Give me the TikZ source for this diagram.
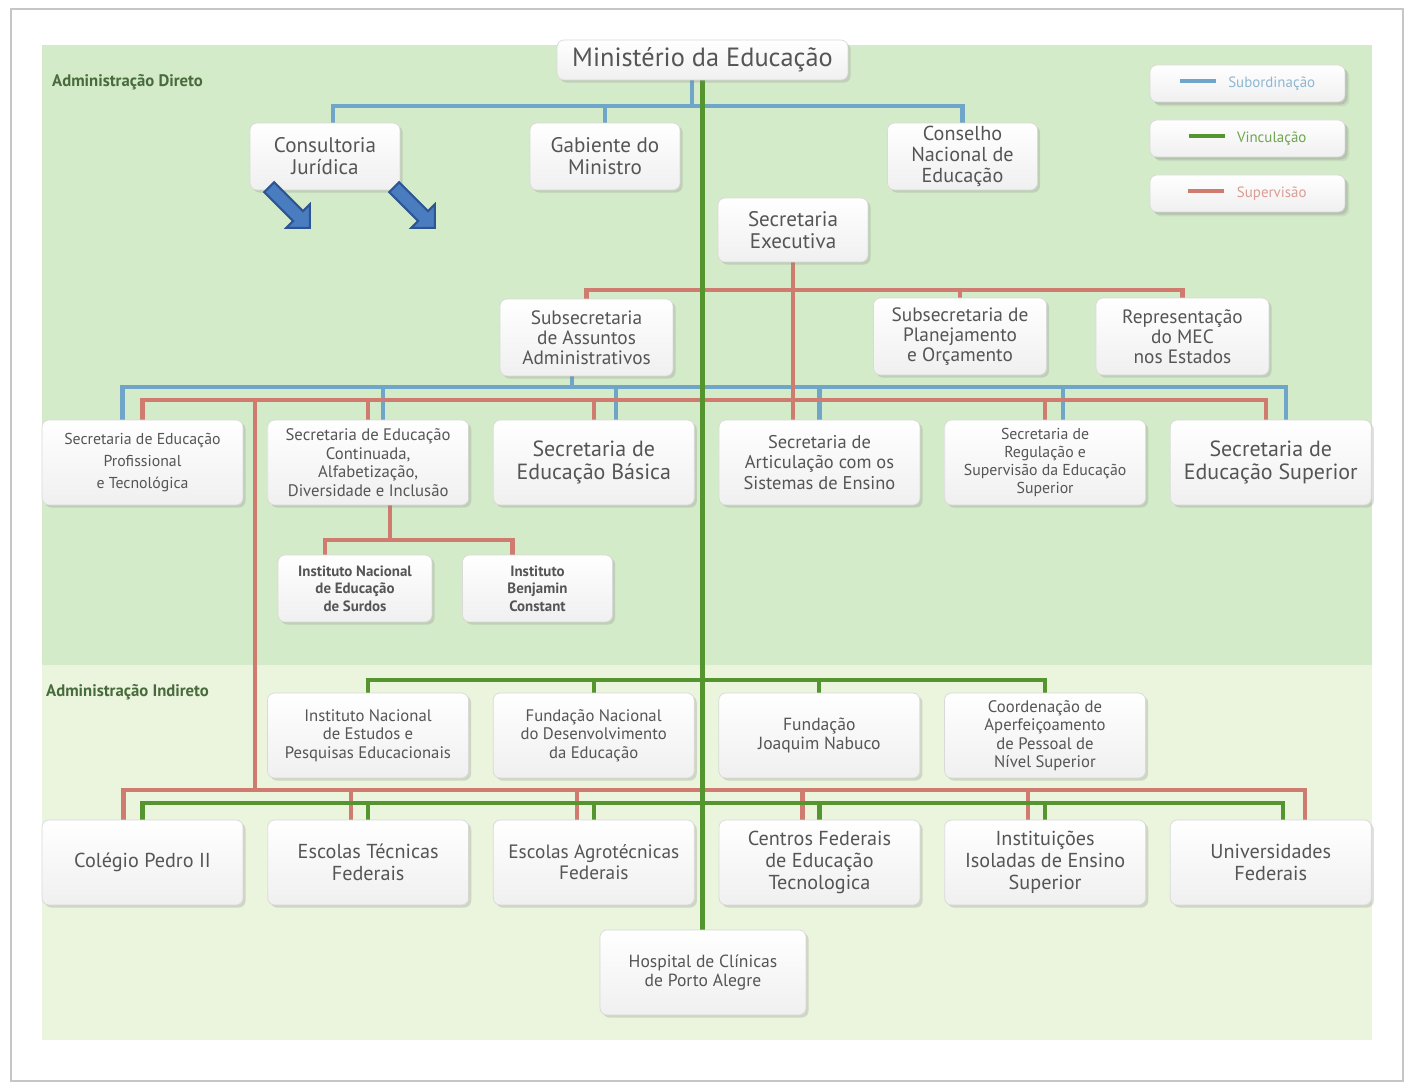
\documentclass[tikz,border=0pt]{standalone}
\usepackage{fontspec}
\setmainfont{PT Sans}
\usetikzlibrary{positioning,shadows,shapes.arrows,backgrounds}
\definecolor{mecblue}{HTML}{6FA5C8}
\definecolor{mecgreen}{HTML}{55952F}
\definecolor{mecred}{HTML}{CF7B70}
\definecolor{areatop}{HTML}{D4EBC9}
\definecolor{areabottom}{HTML}{EBF4DC}
\definecolor{boxtext}{HTML}{555555}
\definecolor{labelgreen}{HTML}{476B3C}
\definecolor{arrowfill}{HTML}{4A7CC0}
\definecolor{arrowline}{HTML}{2E5593}

\begin{document}
\begin{tikzpicture}[
    x=0.02cm, y=-0.02cm,
    node distance=0.48cm,
    box/.style={draw=gray!30, rounded corners=4pt, top color=white, bottom color=gray!12,
                drop shadow={shadow xshift=1.5pt, shadow yshift=-1.5pt, opacity=0.25},
                text=boxtext, align=center, inner sep=1pt},
    secbox/.style={box, minimum width=4.02cm, minimum height=1.7cm},
    smallbox/.style={box, minimum width=3cm, minimum height=1.34cm},
    midbox/.style={box, minimum width=3.46cm, minimum height=1.54cm},
    keybox/.style={box, minimum width=3.9cm, minimum height=0.74cm,
                   font=\fontsize{8.5}{9}\selectfont, drop shadow={opacity=0.15}},
    area/.style={font=\fontsize{9.5}{11}\selectfont\bfseries, text=labelgreen, anchor=west},
    sub/.style={draw=mecblue, line width=2.3pt},
    vinc/.style={draw=mecgreen, line width=2.3pt},
    sup/.style={draw=mecred, line width=2.6pt},
    blockarrow/.style={single arrow, draw=arrowline, fill=arrowfill, line width=1.2pt,
                       minimum height=1.15cm, single arrow head extend=0.19cm,
                       inner sep=0.12cm, rotate=-45},
]
\useasboundingbox (0,0) rectangle (1411,1084);

% Administração Direta
\node[box, minimum width=5.82cm, minimum height=0.8cm, font=\fontsize{15}{17}\selectfont]
    (min) at (702.5,60) {Ministério da Educação};
\node[area] (dir) at (46,82) {Administração Direto};

\node[smallbox, font=\fontsize{12}{12.5}\selectfont] (cj) at (325,156.5) {Consultoria\\Jurídica};
\node[smallbox, font=\fontsize{12}{12.5}\selectfont] (gm) at (605,156.5) {Gabiente do\\Ministro};
\node[smallbox, font=\fontsize{11.5}{12}\selectfont] (cne) at (962.5,156.5) {Conselho\\Nacional de\\Educação};
\node[smallbox, minimum height=1.28cm, font=\fontsize{12}{12.5}\selectfont] (se) at (793,230) {Secretaria\\Executiva};

\node[blockarrow] (arrowA) at (287,205) {};
\node[blockarrow] (arrowB) at (412,205) {};

\node[midbox, font=\fontsize{11}{11.5}\selectfont] (saa) at (586.5,337.5) {Subsecretaria\\de Assuntos\\Administrativos};
\node[midbox, font=\fontsize{11}{11.5}\selectfont] (spo) at (960,336.5) {Subsecretaria de\\Planejamento\\e Orçamento};
\node[midbox, font=\fontsize{11}{11.5}\selectfont] (rep) at (1182.5,336.5) {Representação\\do MEC\\nos Estados};

\node[secbox, font=\fontsize{9}{12.5}\selectfont] (sept) at (142.5,462.5)
    {Secretaria de Educação\\Profissional\\e Tecnológica};
\node[secbox, font=\fontsize{9.5}{10.5}\selectfont, right=of sept] (secadi)
    {Secretaria de Educação\\Continuada,\\Alfabetização,\\Diversidade e Inclusão};
\node[secbox, font=\fontsize{12.5}{13.5}\selectfont, right=of secadi] (seb)
    {Secretaria de\\Educação Básica};
\node[secbox, font=\fontsize{10.5}{11.5}\selectfont, right=of seb] (sase)
    {Secretaria de\\Articulação com os\\Sistemas de Ensino};
\node[secbox, font=\fontsize{9}{10.2}\selectfont, right=of sase] (seres)
    {Secretaria de\\Regulação e\\Supervisão da Educação\\Superior};
\node[secbox, font=\fontsize{12.5}{13}\selectfont, right=of seres] (sesu)
    {Secretaria de\\Educação Superior};

\node[smallbox, minimum width=3.08cm, font=\fontsize{8.5}{10}\selectfont\bfseries]
    (ines) at (355,588.5) {Instituto Nacional\\de Educação\\de Surdos};
\node[smallbox, font=\fontsize{8.5}{10}\selectfont\bfseries]
    (ibc) at (537.5,588.5) {Instituto\\Benjamin\\Constant};

% Administração Indireta
\node[area] (ind) at (40,692) {Administração Indireto};
\node[secbox, font=\fontsize{9.5}{10.5}\selectfont] (inep) at (368,735.5)
    {Instituto Nacional\\de Estudos e\\Pesquisas Educacionais};
\node[secbox, font=\fontsize{9.5}{10.5}\selectfont, right=of inep] (fnde)
    {Fundação Nacional\\do Desenvolvimento\\da Educação};
\node[secbox, font=\fontsize{10}{11}\selectfont, right=of fnde] (fjn)
    {Fundação\\Joaquim Nabuco};
\node[secbox, font=\fontsize{9.5}{10.5}\selectfont, right=of fjn] (capes)
    {Coordenação de\\Aperfeiçoamento\\de Pessoal de\\Nível Superior};

\node[secbox, font=\fontsize{11.5}{12.5}\selectfont] (cp2) at (142.5,862.5) {Colégio Pedro II};
\node[secbox, font=\fontsize{11.5}{12.5}\selectfont, right=of cp2] (etf) {Escolas Técnicas\\Federais};
\node[secbox, font=\fontsize{11}{12}\selectfont, right=of etf] (eaf) {Escolas Agrotécnicas\\Federais};
\node[secbox, font=\fontsize{11.5}{12.5}\selectfont, right=of eaf] (cefet) {Centros Federais\\de Educação\\Tecnologica};
\node[secbox, font=\fontsize{11.5}{12.5}\selectfont, right=of cefet] (iies) {Instituições\\Isoladas de Ensino\\Superior};
\node[secbox, font=\fontsize{11.5}{12.5}\selectfont, right=of iies] (uf) {Universidades\\Federais};

\node[box, minimum width=4.12cm, minimum height=1.7cm, font=\fontsize{10}{11}\selectfont]
    (hcpa) at (703,972.5) {Hospital de Clínicas\\de Porto Alegre};

% legenda
\node[keybox] (keysub) at (1247.5,83.5)
    {\textcolor{mecblue}{\rule[0.3em]{0.72cm}{2.2pt}}\hspace{0.25cm}\textcolor{mecblue!80}{Subordinação}};
\node[keybox] (keyvinc) at (1247.5,138.5)
    {\textcolor{mecgreen}{\rule[0.3em]{0.72cm}{2.2pt}}\hspace{0.25cm}\textcolor{mecgreen!85}{Vinculação}};
\node[keybox] (keysup) at (1247.5,193.5)
    {\textcolor{mecred}{\rule[0.3em]{0.72cm}{2.2pt}}\hspace{0.25cm}\textcolor{mecred!75}{Supervisão}};

\begin{scope}[on background layer]
% papel e areas
\fill[white] (0,0) rectangle (1411,1084);
\draw[gray!45, line width=1.6pt] (11,9) rectangle (1403,1081);
\fill[areatop] (42,45) rectangle (1372,665);
\fill[areabottom] (42,665) rectangle (1372,1040);

% subordinacao
\coordinate (subA) at (692,106);
\draw[sub] (subA |- min.south) -- (subA);
\draw[sub] ([xshift=0.16cm]cj.north) |- (subA) -| (cne.north);
\draw[sub] (gm.north) -- (gm.north |- subA);
\coordinate (subB) at (572,387);
\draw[sub] (subB |- saa.south) -- (subB);
\draw[sub] ([xshift=-0.4cm]sept.north) |- (subB) -| ([xshift=0.3cm]sesu.north);
\draw[sub] ([xshift=0.3cm]secadi.north) -- ([xshift=0.3cm]secadi.north |- subB);
\draw[sub] ([xshift=0.44cm]seb.north) -- ([xshift=0.44cm]seb.north |- subB);
\draw[sub] (sase.north) -- (sase.north |- subB);
\draw[sub] ([xshift=0.36cm]seres.north) -- ([xshift=0.36cm]seres.north |- subB);

% supervisao
\coordinate (supA) at (796,290);
\draw[sup] (se.south) -- (se.south |- sase.north);
\draw[sup] (saa.north) |- (supA) -| (rep.north);
\draw[sup] (spo.north) -- (spo.north |- supA);
\coordinate (supB) at (796,400);
\draw[sup] (sept.north) |- (supB) -| ([xshift=-0.1cm]sesu.north);
\foreach \n in {secadi,seb,seres}
    \draw[sup] (\n.north) -- (\n.north |- supB);
\coordinate (supE) at (390,540);
\draw[sup] (supE |- secadi.south) -- (supE);
\draw[sup] ([xshift=-0.6cm]ines.north) |- (supE) -| ([xshift=-0.5cm]ibc.north);
\coordinate (supC) at (255,400);
\coordinate (supD) at (255,790);
\draw[sup] (supC) -- (supD);
\draw[sup] ([xshift=-0.38cm]cp2.north) |- (supD) -| ([xshift=0.68cm]uf.north);
\foreach \n in {etf,eaf,cefet,iies}
    \draw[sup] ([xshift=-0.34cm]\n.north) -- ([xshift=-0.34cm]\n.north |- supD);

% vinculacao
\draw[vinc] (min.south) -- (min.south |- hcpa.north);
\coordinate (vincA) at (702.5,680);
\draw[vinc] (inep.north) |- (vincA) -| (capes.north);
\draw[vinc] (fnde.north) -- (fnde.north |- vincA);
\draw[vinc] (fjn.north) -- (fjn.north |- vincA);
\coordinate (vincB) at (702.5,803);
\draw[vinc] (cp2.north) |- (vincB) -| ([xshift=0.24cm]uf.north);
\foreach \n in {etf,eaf,cefet,iies}
    \draw[vinc] (\n.north) -- (\n.north |- vincB);
\end{scope}

\end{tikzpicture}
\end{document}
